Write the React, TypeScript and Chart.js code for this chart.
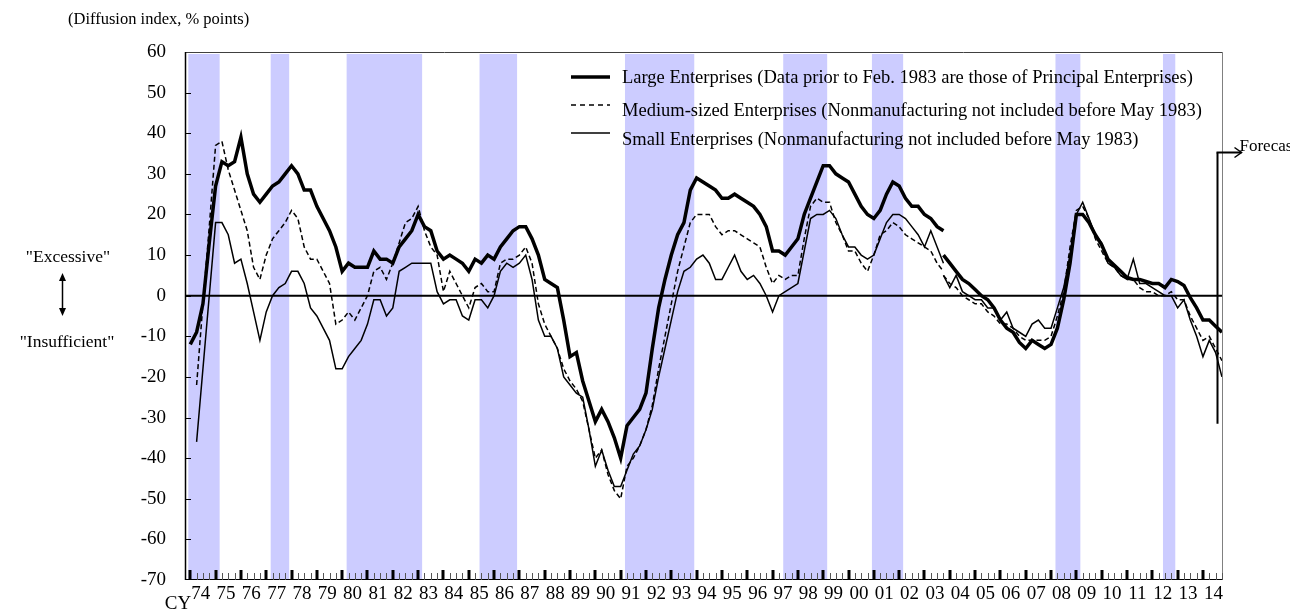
import React, { useEffect, useRef } from "react";
import { Chart, registerables } from "chart.js";

Chart.register(...registerables);

// ---------- data ----------
const YEAR_LABELS = [
  "74", "75", "76", "77", "78", "79", "80", "81", "82", "83",
  "84", "85", "86", "87", "88", "89", "90", "91", "92", "93",
  "94", "95", "96", "97", "98", "99", "00", "01", "02", "03",
  "04", "05", "06", "07", "08", "09", "10", "11", "12", "13", "14",
];
const FIRST_YEAR = 1974;

// Large Enterprises, old basis: 1974Q1 - 2003Q4
const LARGE_OLD_START = "1974Q1";
const LARGE_OLD = [
  -12, -9, -2, 13, 27, 33, 32, 33, 39, 30,
  25, 23, 25, 27, 28, 30, 32, 30, 26, 26,
  22, 19, 16, 12, 6, 8, 7, 7, 7, 11,
  9, 9, 8, 12, 14, 16, 20, 17, 16, 11,
  9, 10, 9, 8, 6, 9, 8, 10, 9, 12,
  14, 16, 17, 17, 14, 10, 4, 3, 2, -6,
  -15, -14, -21, -26, -31, -28, -31, -35, -40, -32,
  -30, -28, -24, -13, -3, 4, 10, 15, 18, 26,
  29, 28, 27, 26, 24, 24, 25, 24, 23, 22,
  20, 17, 11, 11, 10, 12, 14, 20, 24, 28,
  32, 32, 30, 29, 28, 25, 22, 20, 19, 21,
  25, 28, 27, 24, 22, 22, 20, 19, 17, 16,
];
// Large Enterprises, new basis: 2003Q4 - 2014Q4 (last = forecast)
const LARGE_NEW_START = "2003Q4";
const LARGE_NEW = [
  10, 8, 6, 4, 3, 1.5, 0, -1, -3, -6,
  -8, -9, -11.5, -13, -11, -12, -13, -12, -8, -1,
  8, 20, 20, 18, 15, 12.5, 9, 7.5, 6, 4.5,
  4, 4, 3.5, 3, 3, 2, 4, 3.5, 2.5, -0.5,
  -3, -6, -6, -7.5, -9,
];
// Medium-sized Enterprises, old basis: 1974Q2 - 2003Q4
const MEDIUM_OLD_START = "1974Q2";
const MEDIUM_OLD = [
  -22, -2, 17, 37, 38, 31, 26, 21, 16,
  7, 4, 10, 14, 16, 18, 21, 19, 12, 9,
  9, 6, 3, -7, -6, -4, -6, -3, 0, 6,
  7, 4, 8, 13, 18, 19, 22, 16, 12, 10,
  1, 6, 3, 0, -3, 2, 3, 1, 1, 8,
  9, 9, 10, 12, 8, -2, -7, -10, -13, -18,
  -21, -23, -26, -33, -40, -38, -44, -48, -50, -42,
  -40, -37, -33, -27, -18, -10, -2, 6, 12, 18,
  20, 20, 20, 17, 15, 16, 16, 15, 14, 13,
  12, 7, 3, 5, 4, 5, 5, 14, 22, 24,
  23, 23, 18, 15, 11, 11, 8, 6, 10, 15,
  16, 18, 17, 15, 14, 13, 12, 11, 8, 6,
];
const MEDIUM_NEW_START = "2003Q4";
const MEDIUM_NEW = [
  5, 3, 2, 0, -1, -2, -2, -4, -5, -7,
  -7, -8, -10, -11, -11, -11, -11, -10, -5, 1,
  12, 21, 22, 19, 14, 11, 8, 7, 5, 4,
  4, 2, 1, 1, 0, 0, 1, -1, -1, -5,
  -8, -11, -10, -13, -16,
];
// Small Enterprises, old basis: 1974Q2 - 2003Q4
const SMALL_OLD_START = "1974Q2";
const SMALL_OLD = [
  -36, -18, 0, 18, 18, 15, 8, 9, 3,
  -4, -11, -4, 0, 2, 3, 6, 6, 3, -3,
  -5, -8, -11, -18, -18, -15, -13, -11, -7, -1,
  -1, -5, -3, 6, 7, 8, 8, 8, 8, 1,
  -2, -1, -1, -5, -6, -1, -1, -3, 0, 6,
  8, 7, 8, 10, 4, -6, -10, -10, -13, -20,
  -22, -24, -25, -33, -42, -38, -43, -47, -47, -43,
  -39, -37, -33, -28, -20, -13, -6, 1, 6, 7,
  9, 10, 8, 4, 4, 7, 10, 6, 4, 5,
  3, 0, -4, 0, 1, 2, 3, 11, 19, 20,
  20, 21, 19, 15, 12, 12, 10, 9, 10, 14,
  18, 20, 20, 19, 17, 15, 12, 16, 12, 8,
];
const SMALL_NEW_START = "2003Q4";
const SMALL_NEW = [
  5, 2, 5, 1, 0, -1, -1, -3, -3, -6,
  -4, -8, -9, -10, -7, -6, -8, -8, -3, 2,
  10, 20, 23, 19, 15, 13, 8, 7, 5, 4,
  9, 3, 3, 2, 1, 0, 0, -3, -1, -6,
  -10, -15, -11, -14, -20,
];

// shaded periods (recessions), in calendar years
const RECESSIONS: [number, number][] = [
  [1974.125, 1975.375],
  [1977.375, 1978.125],
  [1980.375, 1983.375],
  [1985.625, 1987.125],
  [1991.375, 1994.125],
  [1997.625, 1999.375],
  [2001.125, 2002.375],
  [2008.375, 2009.375],
  [2012.625, 2013.125],
];
const FORECAST_FROM = 2014.75;

const LEGEND_LABELS = [
  "Large Enterprises (Data prior to Feb. 1983 are those of Principal Enterprises)",
  "Medium-sized Enterprises (Nonmanufacturing not included before May 1983)",
  "Small Enterprises (Nonmanufacturing not included before May 1983)",
];

// ---------- helpers ----------
function quarterX(year: number, q: number) {
  return year + (q * 3 - 0.5) / 12;
}
function toPoints(start: string, values: number[]) {
  const [y0, q0] = start.split("Q").map(Number);
  return values.map((v, i) => {
    const idx = q0 - 1 + i;
    return { x: quarterX(y0 + Math.floor(idx / 4), (idx % 4) + 1), y: v };
  });
}

const SERIF = '"Liberation Serif", "Times New Roman", serif';
const BAND_COLOR = "#CCCCFF";

const decorPlugin = {
  id: "decor",
  afterDraw(chart: any) {
    const { ctx, chartArea, scales } = chart;
    const { left, right, top, bottom } = chartArea;
    const xs = scales.x;
    const ys = scales.y;
    const line = (x1: number, y1: number, x2: number, y2: number) => {
      ctx.beginPath();
      ctx.moveTo(x1, y1);
      ctx.lineTo(x2, y2);
      ctx.stroke();
    };
    ctx.save();
    // frame
    ctx.lineWidth = 1;
    ctx.strokeStyle = "#404040";
    line(left, top + 0.5, right, top + 0.5);
    ctx.strokeStyle = "#808080";
    line(right - 0.5, top, right - 0.5, bottom);
    ctx.strokeStyle = "#000";
    line(left, bottom - 0.5, right, bottom - 0.5);
    ctx.lineWidth = 1.5;
    line(left + 0.5, top, left + 0.5, bottom);

    // inward y tick marks
    ctx.lineWidth = 1;
    for (let v = -60; v <= 50; v += 10) {
      const py = Math.round(ys.getPixelForValue(v)) + 0.5;
      line(left, py, left + 6, py);
    }

    // quarterly tick marks along the bottom
    for (let yr = FIRST_YEAR; yr < FIRST_YEAR + YEAR_LABELS.length; yr++) {
      for (let q = 1; q <= 4; q++) {
        const px = xs.getPixelForValue(quarterX(yr, q));
        if (q === 1) {
          ctx.fillStyle = "#000";
          ctx.fillRect(Math.round(px) - 1.5, bottom - 10, 3, 10);
        } else {
          ctx.strokeStyle = "#555";
          ctx.lineWidth = 1;
          line(Math.round(px) + 0.5, bottom - 7, Math.round(px) + 0.5, bottom);
        }
      }
    }

    // forecast marker
    const fx = Math.round(xs.getPixelForValue(FORECAST_FROM)) + 0.5;
    const fTop = Math.round(ys.getPixelForValue(35.5)) + 0.5;
    const fBot = ys.getPixelForValue(-31.5);
    ctx.strokeStyle = "#000";
    ctx.lineWidth = 2;
    line(fx, fBot, fx, fTop);
    line(fx - 1, fTop, fx + 24, fTop);
    ctx.lineWidth = 1.5;
    ctx.beginPath();
    ctx.moveTo(fx + 17, fTop - 5);
    ctx.lineTo(fx + 24, fTop);
    ctx.lineTo(fx + 17, fTop + 5);
    ctx.stroke();

    // texts
    ctx.fillStyle = "#000";
    ctx.textBaseline = "middle";
    ctx.textAlign = "left";
    ctx.font = `16.5px ${SERIF}`;
    ctx.fillText("(Diffusion index, % points)", 68, 20);
    ctx.font = `17px ${SERIF}`;
    ctx.fillText("Forecast", fx + 22, fTop - 6);

    ctx.textAlign = "center";
    ctx.font = `17.5px ${SERIF}`;
    ctx.fillText('"Excessive"', 68, 257);
    ctx.fillText('"Insufficient"', 67, 342);
    ctx.font = `19px ${SERIF}`;
    ctx.fillText("CY", 178, 604);

    // double arrow between the two annotations
    const ax = 62.5;
    ctx.lineWidth = 1.5;
    line(ax, 278, ax, 311);
    ctx.beginPath();
    ctx.moveTo(ax, 273);
    ctx.lineTo(ax - 3.5, 281);
    ctx.lineTo(ax + 3.5, 281);
    ctx.closePath();
    ctx.fill();
    ctx.beginPath();
    ctx.moveTo(ax, 316);
    ctx.lineTo(ax - 3.5, 308);
    ctx.lineTo(ax + 3.5, 308);
    ctx.closePath();
    ctx.fill();

    // legend
    const rows = [
      { sampleY: 77, textY: 78, width: 3.5, dash: [] as number[] },
      { sampleY: 105, textY: 111, width: 1.5, dash: [5, 4] },
      { sampleY: 133, textY: 140, width: 1.5, dash: [] as number[] },
    ];
    ctx.font = `18.5px ${SERIF}`;
    ctx.textAlign = "left";
    rows.forEach((r, i) => {
      ctx.lineWidth = r.width;
      ctx.setLineDash(r.dash);
      line(571, r.sampleY, 610, r.sampleY);
      ctx.setLineDash([]);
      ctx.fillText(LEGEND_LABELS[i], 622, r.textY);
    });
    ctx.restore();
  },
};

export default function App() {
  const ref = useRef<HTMLCanvasElement | null>(null);

  useEffect(() => {
    const canvas = ref.current;
    if (!canvas) return;

    const bandSets = RECESSIONS.map(([s, e]) => ({
      type: "line" as const,
      data: [
        { x: s, y: 59.5 },
        { x: e, y: 59.5 },
      ],
      borderWidth: 0,
      borderColor: "rgba(0,0,0,0)",
      backgroundColor: BAND_COLOR,
      fill: "start",
      pointRadius: 0,
      order: 10,
    }));

    const lineBase = {
      type: "line" as const,
      borderColor: "#000",
      pointRadius: 0,
      tension: 0,
      fill: false,
      order: 1,
    };

    const chart = new Chart(canvas, {
      type: "line",
      data: {
        datasets: [
          ...bandSets,
          {
            ...lineBase,
            data: [
              { x: FIRST_YEAR, y: 0 },
              { x: FIRST_YEAR + YEAR_LABELS.length, y: 0 },
            ],
            borderWidth: 2,
            order: 5,
          },
          { ...lineBase, data: toPoints(SMALL_OLD_START, SMALL_OLD), borderWidth: 1.5 },
          { ...lineBase, data: toPoints(SMALL_NEW_START, SMALL_NEW), borderWidth: 1.5 },
          { ...lineBase, data: toPoints(MEDIUM_OLD_START, MEDIUM_OLD), borderWidth: 1.5, borderDash: [5, 3] },
          { ...lineBase, data: toPoints(MEDIUM_NEW_START, MEDIUM_NEW), borderWidth: 1.5, borderDash: [5, 3] },
          { ...lineBase, data: toPoints(LARGE_OLD_START, LARGE_OLD), borderWidth: 3.5 },
          { ...lineBase, data: toPoints(LARGE_NEW_START, LARGE_NEW), borderWidth: 3.5 },
        ] as any,
      },
      options: {
        animation: false,
        responsive: false,
        devicePixelRatio: 1,
        layout: { padding: { left: 0, top: 52, right: 67, bottom: 0 } },
        plugins: {
          legend: { display: false },
          tooltip: { enabled: false },
          title: { display: false },
        },
        scales: {
          x: {
            type: "linear",
            min: FIRST_YEAR,
            max: FIRST_YEAR + YEAR_LABELS.length,
            grid: { display: false, drawTicks: false },
            border: { display: false },
            afterBuildTicks: (scale: any) => {
              scale.ticks = YEAR_LABELS.map((_, i) => ({ value: FIRST_YEAR + i + 0.62 }));
            },
            afterFit: (scale: any) => {
              scale.height = 31;
            },
            ticks: {
              autoSkip: false,
              maxRotation: 0,
              minRotation: 0,
              padding: 3,
              color: "#000",
              font: { family: SERIF, size: 19 },
              callback: (_v: any, i: number) => YEAR_LABELS[i],
            },
          },
          y: {
            min: -70,
            max: 60,
            grid: { display: false, drawTicks: false },
            border: { display: false },
            afterFit: (scale: any) => {
              scale.width = 185;
            },
            ticks: {
              stepSize: 10,
              padding: 19,
              color: "#000",
              font: { family: SERIF, size: 19 },
            },
          },
        },
      } as any,
      plugins: [decorPlugin],
    });

    return () => chart.destroy();
  }, []);

  return (
    <div style={{ position: "fixed", left: 0, top: 0, width: 1290, height: 611, background: "#fff" }}>
      <canvas ref={ref} width={1290} height={611} style={{ width: 1290, height: 611, display: "block" }} />
    </div>
  );
}
